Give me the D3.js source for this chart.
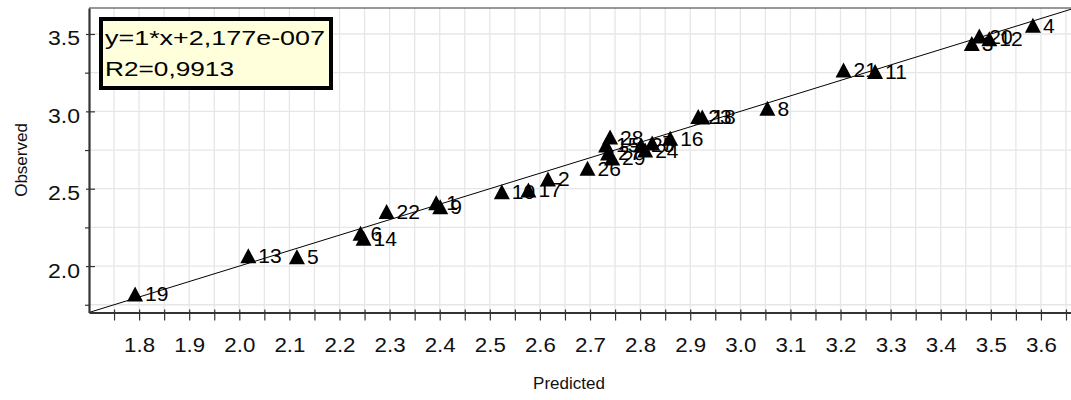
<!DOCTYPE html>
<html>
<head>
<meta charset="utf-8">
<script src="https://cdn.jsdelivr.net/npm/d3@7"></script>
<style>
  body { margin: 0; background: #fff; }
  svg { display: block; font-family: "Liberation Sans", Arial, sans-serif; }
</style>
</head>
<body>
<div id="plot"></div>
<script>
// point ids, predicted (x) and observed (y) values
const pointIds  = ["19","13","5","6","14","22","1","9","10","17","2","26","28","15","27","29","25","24","7","16","23","18","8","21","11","3","20","12","4"];
const predicted = [1.792,2.018,2.115,2.242,2.248,2.294,2.393,2.401,2.524,2.577,2.616,2.695,2.740,2.732,2.736,2.744,2.802,2.810,2.824,2.860,2.916,2.924,3.054,3.206,3.269,3.462,3.477,3.497,3.584];
const observed  = [1.820,2.067,2.061,2.212,2.180,2.352,2.410,2.384,2.481,2.492,2.563,2.632,2.834,2.783,2.731,2.699,2.783,2.750,2.796,2.826,2.966,2.964,3.020,3.268,3.257,3.438,3.487,3.470,3.556];

// regression
const slope = 1;
const intercept = 2.177e-7;
const legendLines = ["y=1*x+2,177e-007", "R2=0,9913"];

// ticks
const xTickLabels = ["1.8","1.9","2.0","2.1","2.2","2.3","2.4","2.5","2.6","2.7","2.8","2.9","3.0","3.1","3.2","3.3","3.4","3.5","3.6"];
const xMinorTicks = [1.75,1.85,1.95,2.05,2.15,2.25,2.35,2.45,2.55,2.65,2.75,2.85,2.95,3.05,3.15,3.25,3.35,3.45,3.55,3.65];
const yTickLabels = ["2.0","2.5","3.0","3.5"];
const yMinorTicks = [1.75,2.25,2.75,3.25];

var dimension = {
    width: 1071,
    height: 400,
    left: 89,
    right: 1071,
    top: 8,
    bottom: 312.5
}

const svg = d3.select("#plot").append("svg")
    .attr("width", dimension.width)
    .attr("height", dimension.height);

const xScaler = d3.scaleLinear().domain([1.7, 3.66]).range([dimension.left, dimension.right]);
const yScaler = d3.scaleLinear().domain([1.7, 3.668]).range([dimension.bottom, dimension.top]);

const xMajor = xTickLabels.map(Number);
const yMajor = yTickLabels.map(Number);

// grid
const grid = svg.append("g");
grid.selectAll(".vg").data(xMajor.concat(xMinorTicks)).join("line")
    .attr("x1", d => xScaler(d)).attr("x2", d => xScaler(d))
    .attr("y1", dimension.top).attr("y2", dimension.bottom)
    .attr("stroke", "#e6e6e6").attr("stroke-width", 1.3);
grid.selectAll(".hg").data(yMajor.concat(yMinorTicks)).join("line")
    .attr("x1", dimension.left).attr("x2", dimension.right)
    .attr("y1", d => yScaler(d)).attr("y2", d => yScaler(d))
    .attr("stroke", "#e6e6e6").attr("stroke-width", 1.3);

// top frame
svg.append("line")
    .attr("x1", dimension.left).attr("x2", dimension.right)
    .attr("y1", dimension.top).attr("y2", dimension.top)
    .attr("stroke", "#333").attr("stroke-width", 1.2);

// regression line
const xd = xScaler.domain();
svg.append("line")
    .attr("x1", xScaler(xd[0])).attr("y1", yScaler(slope * xd[0] + intercept))
    .attr("x2", xScaler(xd[1])).attr("y2", yScaler(slope * xd[1] + intercept))
    .attr("stroke", "#000").attr("stroke-width", 1);

// x axis
const xAxis = svg.append("g").attr("transform", `translate(0,${dimension.bottom})`)
    .call(d3.axisBottom(xScaler).tickValues(xMajor).tickFormat((d, i) => xTickLabels[i]).tickSizeOuter(0));
xAxis.append("g")
    .call(d3.axisBottom(xScaler).tickValues(xMinorTicks).tickFormat("").tickSizeOuter(0))
    .select(".domain").remove();
xAxis.selectAll(".tick line").attr("y1", -3).attr("y2", 8).attr("stroke", "#333").attr("stroke-width", 1.2);
xAxis.select(".domain").attr("stroke", "#333").attr("stroke-width", 2.2);
xAxis.selectAll(".tick text")
    .attr("y", 39.5).attr("dy", 0)
    .attr("font-size", 20).attr("font-family", "Liberation Sans, Arial, sans-serif")
    .attr("fill", "#111")
    .attr("textLength", 31).attr("lengthAdjust", "spacingAndGlyphs");

// y axis
const yAxis = svg.append("g").attr("transform", `translate(${dimension.left},0)`)
    .call(d3.axisLeft(yScaler).tickValues(yMajor).tickFormat((d, i) => yTickLabels[i]).tickSizeOuter(0));
yAxis.selectAll(".tick line").attr("x1", -3).attr("x2", 6);
const yMinorAxis = yAxis.append("g")
    .call(d3.axisLeft(yScaler).tickValues(yMinorTicks).tickFormat("").tickSizeOuter(0));
yMinorAxis.select(".domain").remove();
yMinorAxis.selectAll(".tick line").attr("x1", -4).attr("x2", 0);
yAxis.selectAll(".tick line").attr("stroke", "#333").attr("stroke-width", 1.2);
yAxis.select(".domain").attr("stroke", "#333").attr("stroke-width", 2.2);
yAxis.selectAll(".tick text")
    .attr("x", -9).attr("dy", 11)
    .attr("font-size", 20).attr("font-family", "Liberation Sans, Arial, sans-serif")
    .attr("fill", "#111")
    .attr("textLength", 32).attr("lengthAdjust", "spacingAndGlyphs");

// axis titles
svg.append("text")
    .attr("x", 569).attr("y", 389)
    .attr("text-anchor", "middle")
    .attr("font-size", 17).attr("fill", "#111")
    .text("Predicted");
svg.append("text")
    .attr("transform", "translate(27,160) rotate(-90)")
    .attr("text-anchor", "middle")
    .attr("font-size", 17).attr("fill", "#111")
    .text("Observed");

// point labels first, triangles on top
const points = pointIds.map((id, i) => ({ id: id, x: predicted[i], y: observed[i] }));

svg.append("g").selectAll("text").data(points).join("text")
    .attr("x", d => xScaler(d.x) + 10)
    .attr("y", d => yScaler(d.y) + 7.5)
    .attr("font-size", 21).attr("fill", "#000")
    .text(d => d.id);

const tri = "M0,-7.5L8,7.5L-8,7.5Z";
svg.append("g").selectAll("path").data(points).join("path")
    .attr("d", tri)
    .attr("transform", d => `translate(${xScaler(d.x)},${yScaler(d.y)})`)
    .attr("fill", "#000");

// legend box
const legend = svg.append("g");
legend.append("rect")
    .attr("x", 101).attr("y", 19).attr("width", 230).attr("height", 69)
    .attr("fill", "#ffffdc").attr("stroke", "#000").attr("stroke-width", 4);
const legendLengths = [220, 129];
const legendBaselines = [45, 76];
legend.selectAll("text").data(legendLines).join("text")
    .attr("x", 105)
    .attr("y", (d, i) => legendBaselines[i])
    .attr("font-size", 21).attr("fill", "#000")
    .attr("textLength", (d, i) => legendLengths[i]).attr("lengthAdjust", "spacingAndGlyphs")
    .text(d => d);
</script>
</body>
</html>
